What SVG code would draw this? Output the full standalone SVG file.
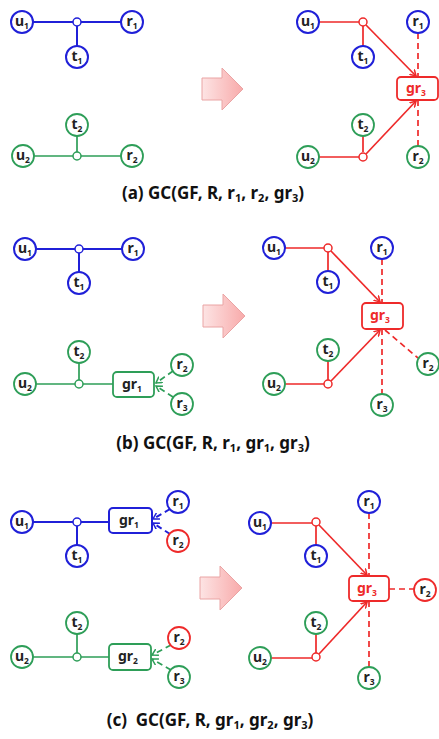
<svg xmlns="http://www.w3.org/2000/svg" width="439" height="739" viewBox="0 0 439 739">
<style>
.bg{fill:#fff}
.nb{fill:#fff;stroke:#2020d8;stroke-width:2}
.ng{fill:#fff;stroke:#2e9e58;stroke-width:1.8}
.nr{fill:#fff;stroke:#ee2a2a;stroke-width:1.8}
.lb{fill:none;stroke:#2020d8;stroke-width:2}
.lg{fill:none;stroke:#2e9e58;stroke-width:1.7}
.lr{fill:none;stroke:#ee2a2a;stroke-width:1.7}
.d{stroke-dasharray:6,4}
.t{font-family:"Noto Sans","Liberation Sans",sans-serif;font-size:14px;font-weight:bold;fill:#222;text-anchor:middle}
.tr{fill:#ee2a2a}
.s{font-size:8.5px}
.cap{font-family:"Noto Sans","Liberation Sans",sans-serif;font-size:17px;font-weight:bold;fill:#111;text-anchor:middle}
.cs{font-size:11px}
.ba{fill:url(#pg);stroke:#eaa4a4;stroke-width:1}
</style>
<defs>
<linearGradient id="pg" x1="0" y1="0" x2="1" y2="0">
<stop offset="0" stop-color="#fde4e4"/>
<stop offset="1" stop-color="#f8aaaa"/>
</linearGradient>
<marker id="ar" markerWidth="8" markerHeight="8" refX="6" refY="4" orient="auto" markerUnits="userSpaceOnUse">
<path d="M0,0.5 L6,4 L0,7.5" fill="none" stroke="#ee2a2a" stroke-width="1.5"/>
</marker>
<marker id="ab" markerWidth="8" markerHeight="8" refX="6" refY="4" orient="auto" markerUnits="userSpaceOnUse">
<path d="M0,0.5 L6,4 L0,7.5" fill="none" stroke="#2020d8" stroke-width="1.5"/>
</marker>
<marker id="ag" markerWidth="8" markerHeight="8" refX="6" refY="4" orient="auto" markerUnits="userSpaceOnUse">
<path d="M0,0.5 L6,4 L0,7.5" fill="none" stroke="#2e9e58" stroke-width="1.5"/>
</marker>
</defs>
<rect class="bg" x="0" y="0" width="439" height="739"/>

<g id="connectors">
<!-- a left -->
<path class="lb" d="M33,22 H121 M77,26 V46"/>
<path class="lg" d="M34,156 H121 M77,152 V136"/>
<!-- a right -->
<path class="lr" d="M319,22 H359 M363,26 V46 M363,152 V136 M319,157 H359"/>
<path class="lr" d="M366,25 L416,76" marker-end="url(#ar)"/>
<path class="lr" d="M366,154 L416,101" marker-end="url(#ar)"/>
<path class="lr d" d="M418,33 V77 M418,100 V146"/>
<!-- b left -->
<path class="lb" d="M36,249 H122 M79,253 V272"/>
<path class="lg" d="M36,384 H113 M79,380 V363"/>
<path class="lg d" d="M173,371 L156,383" marker-end="url(#ag)"/>
<path class="lg d" d="M173,397 L156,386" marker-end="url(#ag)"/>
<!-- b right -->
<path class="lr" d="M285,248 H324 M328,252 V271 M328,380 V361 M285,384 H324"/>
<path class="lr" d="M331,251 L380,302" marker-end="url(#ar)"/>
<path class="lr" d="M331,381 L380,330" marker-end="url(#ar)"/>
<path class="lr d" d="M382,259 V303 M382,329 V394 M385,330 L418,358"/>
<!-- c left -->
<path class="lb" d="M33,522 H109 M77,526 V545"/>
<path class="lb d" d="M170,509 L153,519" marker-end="url(#ab)"/>
<path class="lb d" d="M170,534 L153,523" marker-end="url(#ab)"/>
<path class="lg" d="M33,657 H109 M77,653 V634"/>
<path class="lg d" d="M171,645 L152,655" marker-end="url(#ag)"/>
<path class="lg d" d="M171,670 L152,659" marker-end="url(#ag)"/>
<!-- c right -->
<path class="lr" d="M271,523 H312 M316,526 V545 M316,653 V634 M271,658 H312"/>
<path class="lr" d="M319,525 L367,575" marker-end="url(#ar)"/>
<path class="lr" d="M319,654 L367,602" marker-end="url(#ar)"/>
<path class="lr d" d="M369,513 V576 M369,601 V667 M389,589 H414"/>
</g>

<!-- block arrows -->
<g id="arrow-a"><polygon class="ba" points="202,78 222,78 222,68 243,89 222,110 222,100 202,100"/></g>
<g id="arrow-b"><polygon class="ba" points="203,305 223,305 223,294 245,316 223,338 223,327 203,327"/></g>
<g id="arrow-c"><polygon class="ba" points="200,577 220,577 220,566 242,588 220,610 220,599 200,599"/></g>

<!-- panel a left -->
<g id="a-u1"><circle class="nb" cx="22" cy="22" r="11"/><text class="t" x="22" y="26">u<tspan class="s" dy="3">1</tspan></text></g>
<g id="a-j1"><circle class="nb" cx="77" cy="22" r="4" style="stroke-width:1.5"/></g>
<g id="a-r1"><circle class="nb" cx="132" cy="22" r="11"/><text class="t" x="132" y="26">r<tspan class="s" dy="3">1</tspan></text></g>
<g id="a-t1"><circle class="nb" cx="77" cy="57" r="11"/><text class="t" x="77" y="61">t<tspan class="s" dy="3">1</tspan></text></g>
<g id="a-t2"><circle class="ng" cx="77" cy="125" r="11"/><text class="t" x="77" y="129">t<tspan class="s" dy="3">2</tspan></text></g>
<g id="a-u2"><circle class="ng" cx="23" cy="156" r="11"/><text class="t" x="23" y="160">u<tspan class="s" dy="3">2</tspan></text></g>
<g id="a-j2"><circle class="ng" cx="77" cy="156" r="4" style="stroke-width:1.5"/></g>
<g id="a-r2"><circle class="ng" cx="132" cy="156" r="11"/><text class="t" x="132" y="160">r<tspan class="s" dy="3">2</tspan></text></g>

<!-- panel a right -->
<g id="a2-u1"><circle class="nb" cx="308" cy="22" r="11"/><text class="t" x="308" y="26">u<tspan class="s" dy="3">1</tspan></text></g>
<g id="a2-j1"><circle class="nr" cx="363" cy="22" r="4" style="stroke-width:1.5"/></g>
<g id="a2-t1"><circle class="nb" cx="363" cy="57" r="11"/><text class="t" x="363" y="61">t<tspan class="s" dy="3">1</tspan></text></g>
<g id="a2-r1"><circle class="nb" cx="418" cy="22" r="11"/><text class="t" x="418" y="26">r<tspan class="s" dy="3">1</tspan></text></g>
<g id="a2-gr3"><rect class="nr" x="397" y="77" width="41" height="23" rx="4"/><text class="t tr" x="416" y="93">gr<tspan class="s" dy="3">3</tspan></text></g>
<g id="a2-t2"><circle class="ng" cx="363" cy="125" r="11"/><text class="t" x="363" y="129">t<tspan class="s" dy="3">2</tspan></text></g>
<g id="a2-u2"><circle class="ng" cx="308" cy="157" r="11"/><text class="t" x="308" y="161">u<tspan class="s" dy="3">2</tspan></text></g>
<g id="a2-j2"><circle class="nr" cx="363" cy="157" r="4" style="stroke-width:1.5"/></g>
<g id="a2-r2"><circle class="ng" cx="418" cy="157" r="11"/><text class="t" x="418" y="161">r<tspan class="s" dy="3">2</tspan></text></g>

<text class="cap" x="213" y="199">(a) GC(GF, R, r<tspan class="cs" dy="3">1</tspan><tspan dy="-3">, r</tspan><tspan class="cs" dy="3">2</tspan><tspan dy="-3">, gr</tspan><tspan class="cs" dy="3">3</tspan><tspan dy="-3">)</tspan></text>

<!-- panel b left -->
<g id="b-u1"><circle class="nb" cx="25" cy="249" r="11"/><text class="t" x="25" y="253">u<tspan class="s" dy="3">1</tspan></text></g>
<g id="b-j1"><circle class="nb" cx="79" cy="249" r="4" style="stroke-width:1.5"/></g>
<g id="b-r1"><circle class="nb" cx="133" cy="249" r="11"/><text class="t" x="133" y="253">r<tspan class="s" dy="3">1</tspan></text></g>
<g id="b-t1"><circle class="nb" cx="79" cy="283" r="11"/><text class="t" x="79" y="287">t<tspan class="s" dy="3">1</tspan></text></g>
<g id="b-t2"><circle class="ng" cx="79" cy="352" r="11"/><text class="t" x="79" y="356">t<tspan class="s" dy="3">2</tspan></text></g>
<g id="b-u2"><circle class="ng" cx="25" cy="384" r="11"/><text class="t" x="25" y="388">u<tspan class="s" dy="3">2</tspan></text></g>
<g id="b-j2"><circle class="ng" cx="79" cy="384" r="4" style="stroke-width:1.5"/></g>
<g id="b-gr1"><rect class="ng" x="113" y="372" width="41" height="25" rx="4"/><text class="t" x="132" y="389">gr<tspan class="s" dy="3">1</tspan></text></g>
<g id="b-r2"><circle class="ng" cx="182" cy="365" r="11"/><text class="t" x="182" y="369">r<tspan class="s" dy="3">2</tspan></text></g>
<g id="b-r3"><circle class="ng" cx="182" cy="404" r="11"/><text class="t" x="182" y="408">r<tspan class="s" dy="3">3</tspan></text></g>

<!-- panel b right -->
<g id="b2-u1"><circle class="nb" cx="274" cy="248" r="11"/><text class="t" x="274" y="252">u<tspan class="s" dy="3">1</tspan></text></g>
<g id="b2-j1"><circle class="nr" cx="328" cy="248" r="4" style="stroke-width:1.5"/></g>
<g id="b2-t1"><circle class="nb" cx="328" cy="282" r="11"/><text class="t" x="328" y="286">t<tspan class="s" dy="3">1</tspan></text></g>
<g id="b2-r1"><circle class="nb" cx="382" cy="248" r="11"/><text class="t" x="382" y="252">r<tspan class="s" dy="3">1</tspan></text></g>
<g id="b2-gr3"><rect class="nr" x="362" y="303" width="41" height="26" rx="4"/><text class="t tr" x="380" y="320">gr<tspan class="s" dy="3">3</tspan></text></g>
<g id="b2-t2"><circle class="ng" cx="328" cy="350" r="11"/><text class="t" x="328" y="354">t<tspan class="s" dy="3">2</tspan></text></g>
<g id="b2-u2"><circle class="ng" cx="274" cy="384" r="11"/><text class="t" x="274" y="388">u<tspan class="s" dy="3">2</tspan></text></g>
<g id="b2-j2"><circle class="nr" cx="328" cy="384" r="4" style="stroke-width:1.5"/></g>
<g id="b2-r2"><circle class="ng" cx="428" cy="364" r="11"/><text class="t" x="428" y="368">r<tspan class="s" dy="3">2</tspan></text></g>
<g id="b2-r3"><circle class="ng" cx="382" cy="405" r="11"/><text class="t" x="382" y="409">r<tspan class="s" dy="3">3</tspan></text></g>

<text class="cap" x="213" y="449">(b) GC(GF, R, r<tspan class="cs" dy="3">1</tspan><tspan dy="-3">, gr</tspan><tspan class="cs" dy="3">1</tspan><tspan dy="-3">, gr</tspan><tspan class="cs" dy="3">3</tspan><tspan dy="-3">)</tspan></text>

<!-- panel c left -->
<g id="c-u1"><circle class="nb" cx="22" cy="522" r="11"/><text class="t" x="22" y="526">u<tspan class="s" dy="3">1</tspan></text></g>
<g id="c-j1"><circle class="nb" cx="77" cy="522" r="4" style="stroke-width:1.5"/></g>
<g id="c-t1"><circle class="nb" cx="77" cy="556" r="11"/><text class="t" x="77" y="560">t<tspan class="s" dy="3">1</tspan></text></g>
<g id="c-gr1"><rect class="nb" x="109" y="508" width="43" height="25" rx="4"/><text class="t" x="129" y="525">gr<tspan class="s" dy="3">1</tspan></text></g>
<g id="c-r1"><circle class="nb" cx="178" cy="502" r="11"/><text class="t" x="178" y="506">r<tspan class="s" dy="3">1</tspan></text></g>
<g id="c-r2"><circle class="nr" cx="178" cy="541" r="11"/><text class="t" x="178" y="545">r<tspan class="s" dy="3">2</tspan></text></g>
<g id="c-t2"><circle class="ng" cx="77" cy="623" r="11"/><text class="t" x="77" y="627">t<tspan class="s" dy="3">2</tspan></text></g>
<g id="c-u2"><circle class="ng" cx="22" cy="657" r="11"/><text class="t" x="22" y="661">u<tspan class="s" dy="3">2</tspan></text></g>
<g id="c-j2"><circle class="ng" cx="77" cy="657" r="4" style="stroke-width:1.5"/></g>
<g id="c-gr2"><rect class="ng" x="109" y="644" width="42" height="26" rx="4"/><text class="t" x="128" y="661">gr<tspan class="s" dy="3">2</tspan></text></g>
<g id="c-r2b"><circle class="nr" cx="179" cy="638" r="11"/><text class="t" x="179" y="642">r<tspan class="s" dy="3">2</tspan></text></g>
<g id="c-r3"><circle class="ng" cx="179" cy="677" r="11"/><text class="t" x="179" y="681">r<tspan class="s" dy="3">3</tspan></text></g>

<!-- panel c right -->
<g id="c2-u1"><circle class="nb" cx="260" cy="523" r="11"/><text class="t" x="260" y="527">u<tspan class="s" dy="3">1</tspan></text></g>
<g id="c2-j1"><circle class="nr" cx="316" cy="522" r="4" style="stroke-width:1.5"/></g>
<g id="c2-t1"><circle class="nb" cx="316" cy="556" r="11"/><text class="t" x="316" y="560">t<tspan class="s" dy="3">1</tspan></text></g>
<g id="c2-r1"><circle class="nb" cx="369" cy="502" r="11"/><text class="t" x="369" y="506">r<tspan class="s" dy="3">1</tspan></text></g>
<g id="c2-gr3"><rect class="nr" x="349" y="576" width="40" height="25" rx="4"/><text class="t tr" x="367" y="593">gr<tspan class="s" dy="3">3</tspan></text></g>
<g id="c2-r2"><circle class="nr" cx="425" cy="590" r="11"/><text class="t" x="425" y="594">r<tspan class="s" dy="3">2</tspan></text></g>
<g id="c2-t2"><circle class="ng" cx="316" cy="623" r="11"/><text class="t" x="316" y="627">t<tspan class="s" dy="3">2</tspan></text></g>
<g id="c2-u2"><circle class="ng" cx="260" cy="658" r="11"/><text class="t" x="260" y="662">u<tspan class="s" dy="3">2</tspan></text></g>
<g id="c2-j2"><circle class="nr" cx="316" cy="657" r="4" style="stroke-width:1.5"/></g>
<g id="c2-r3"><circle class="ng" cx="369" cy="678" r="11"/><text class="t" x="369" y="682">r<tspan class="s" dy="3">3</tspan></text></g>

<text class="cap" x="210" y="726" xml:space="preserve">(c)  GC(GF, R, gr<tspan class="cs" dy="3">1</tspan><tspan dy="-3">, gr</tspan><tspan class="cs" dy="3">2</tspan><tspan dy="-3">, gr</tspan><tspan class="cs" dy="3">3</tspan><tspan dy="-3">)</tspan></text>
</svg>
